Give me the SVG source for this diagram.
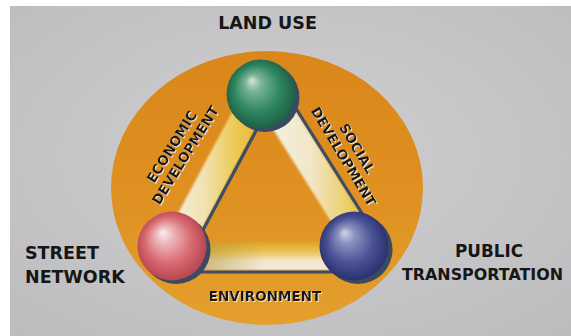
<svg xmlns="http://www.w3.org/2000/svg" width="571" height="336" viewBox="0 0 571 336">
  <style>
    .lbl { font-family: "DejaVu Sans", Verdana, sans-serif; font-weight: bold; fill: #161616; }
    .big { font-size: 17.5px; }
    .mid { font-size: 16.8px; }
    .edge { font-size: 13.5px; }
    .shade { fill: #3b4962; }
    .rim { stroke: #3d4d66; stroke-width: 3.2; stroke-linecap: round; fill: none; }
  </style>
  <defs>
    <radialGradient id="bg" cx="0.5" cy="0.45" r="0.75">
      <stop offset="0" stop-color="#d0cfd0"/>
      <stop offset="1" stop-color="#bcbbbe"/>
    </radialGradient>
    <linearGradient id="disc" x1="0" y1="0" x2="0" y2="1">
      <stop offset="0" stop-color="#da861a"/>
      <stop offset="0.55" stop-color="#df9121"/>
      <stop offset="1" stop-color="#e4a02d"/>
    </linearGradient>
    <!-- beam fills -->
    <linearGradient id="beamL" gradientUnits="userSpaceOnUse" x1="168" y1="0" x2="274" y2="0">
      <stop offset="0" stop-color="#f3eee2"/>
      <stop offset="0.35" stop-color="#f1e2b0"/>
      <stop offset="0.65" stop-color="#ebc950"/>
      <stop offset="1" stop-color="#e2ad2c"/>
    </linearGradient>
    <linearGradient id="beamR" gradientUnits="userSpaceOnUse" x1="262" y1="0" x2="386" y2="0">
      <stop offset="0" stop-color="#f5f1e8"/>
      <stop offset="0.4" stop-color="#f2e6c6"/>
      <stop offset="0.7" stop-color="#eccd66"/>
      <stop offset="1" stop-color="#e0a92c"/>
    </linearGradient>
    <linearGradient id="beamB" gradientUnits="userSpaceOnUse" x1="0" y1="243" x2="0" y2="270">
      <stop offset="0" stop-color="#e2a72a"/>
      <stop offset="0.35" stop-color="#eac65a"/>
      <stop offset="0.65" stop-color="#f2e6c8"/>
      <stop offset="1" stop-color="#f4eee2"/>
    </linearGradient>
    <linearGradient id="beamBend" gradientUnits="userSpaceOnUse" x1="200" y1="0" x2="265" y2="0">
      <stop offset="0" stop-color="#b3953a" stop-opacity="0.6"/>
      <stop offset="1" stop-color="#b3953a" stop-opacity="0"/>
    </linearGradient>
    <!-- spheres -->
    <radialGradient id="green" cx="0.5" cy="0.5" r="0.55" fx="0.36" fy="0.3">
      <stop offset="0" stop-color="#d4e6da"/>
      <stop offset="0.22" stop-color="#78b394"/>
      <stop offset="0.6" stop-color="#2f8762"/>
      <stop offset="1" stop-color="#1b5840"/>
    </radialGradient>
    <radialGradient id="red" cx="0.5" cy="0.5" r="0.55" fx="0.36" fy="0.3">
      <stop offset="0" stop-color="#f7f0f0"/>
      <stop offset="0.22" stop-color="#ecb8bb"/>
      <stop offset="0.6" stop-color="#d96b74"/>
      <stop offset="1" stop-color="#b23e4a"/>
    </radialGradient>
    <radialGradient id="blue" cx="0.5" cy="0.5" r="0.55" fx="0.36" fy="0.3">
      <stop offset="0" stop-color="#d3d5e5"/>
      <stop offset="0.22" stop-color="#8b92c0"/>
      <stop offset="0.6" stop-color="#4a5296"/>
      <stop offset="1" stop-color="#252b66"/>
    </radialGradient>
    <filter id="soft" x="-10%" y="-10%" width="120%" height="120%">
      <feGaussianBlur stdDeviation="1"/>
    </filter>
    <filter id="halo" x="-10%" y="-10%" width="120%" height="120%">
      <feDropShadow dx="1" dy="1" stdDeviation="0.3" flood-color="#eef0f3" flood-opacity="0.85"/>
    </filter>
  </defs>

  <!-- page -->
  <rect width="571" height="336" fill="#ffffff"/>
  <rect x="10" y="6" width="561" height="330" fill="url(#bg)"/>

  <!-- orange disc -->
  <ellipse id="disc-back" cx="267" cy="188" rx="156" ry="137" fill="url(#disc)"/>

  <g id="connectors">
    <g filter="url(#soft)">
      <polygon points="248.7,80.9 273.8,94.3 191,249.3 165.9,235.9" fill="url(#beamL)"/>
      <polygon points="258.6,106.2 283.1,90.8 383.7,250.8 359.2,266.2" fill="url(#beamR)"/>
      <rect x="175" y="242" width="180" height="28" fill="url(#beamB)"/>
      <rect x="175" y="242" width="180" height="28" fill="url(#beamBend)"/>
    </g>
    <line class="rim" x1="275.1" y1="95" x2="192.3" y2="250"/>
    <line class="rim" x1="284.4" y1="90" x2="385" y2="250"/>
    <line class="rim" x1="180" y1="272" x2="350" y2="272"/>

    <g id="label-economic" filter="url(#halo)">
      <g transform="translate(178.5,151) rotate(-58)">
        <text class="lbl edge" x="0" y="-3.1" text-anchor="middle">ECONOMIC</text>
        <text class="lbl edge" x="0" y="12.9" text-anchor="middle">DEVELOPMENT</text>
      </g>
    </g>
    <g id="label-social" filter="url(#halo)">
      <g transform="translate(350.5,152.5) rotate(59)">
        <text class="lbl edge" x="0" y="-3.1" text-anchor="middle">SOCIAL</text>
        <text class="lbl edge" x="0" y="12.9" text-anchor="middle">DEVELOPMENT</text>
      </g>
    </g>
    <g id="label-environment" filter="url(#halo)">
      <text class="lbl edge" x="265" y="301" text-anchor="middle">ENVIRONMENT</text>
    </g>
  </g>

  <g id="land-use">
    <circle class="shade" cx="265" cy="97.5" r="34.5"/>
    <circle cx="261" cy="94" r="34.5" fill="url(#green)"/>
    <text class="lbl big" x="267.5" y="29" text-anchor="middle">LAND USE</text>
  </g>

  <g id="street-network">
    <circle class="shade" cx="176" cy="249.5" r="34.5"/>
    <circle cx="172" cy="246" r="34.5" fill="url(#red)"/>
    <text class="lbl big" x="25" y="259">STREET</text>
    <text class="lbl big" x="25" y="283">NETWORK</text>
  </g>

  <g id="public-transportation">
    <circle class="shade" cx="358" cy="249.5" r="34.5"/>
    <circle cx="354" cy="246" r="34.5" fill="url(#blue)"/>
    <text class="lbl mid" x="489" y="257" text-anchor="middle">PUBLIC</text>
    <text class="lbl" x="402" y="280" style="font-size:15.9px">TRANSPORTATION</text>
  </g>
</svg>
